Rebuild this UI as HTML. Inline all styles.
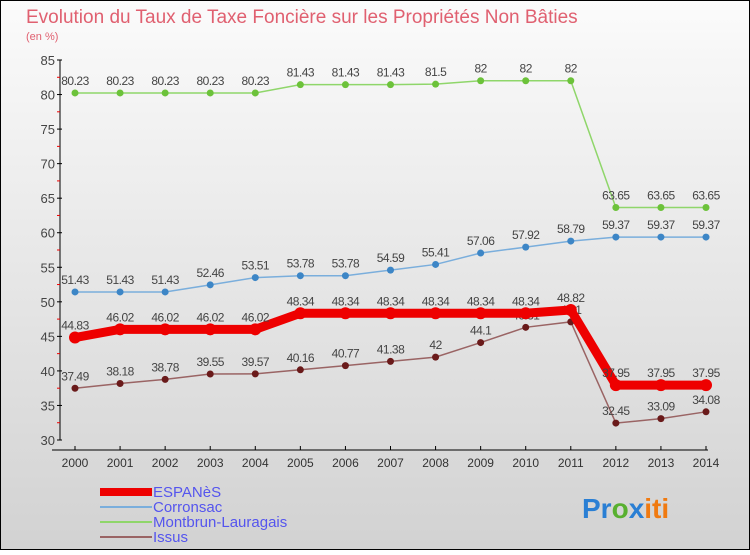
<!DOCTYPE html>
<html><head><meta charset="utf-8"><style>
body{margin:0}
svg text{font-family:"Liberation Sans",sans-serif}
</style></head><body>
<svg id="c" width="750" height="550" xmlns="http://www.w3.org/2000/svg">
<defs><linearGradient id="bg" x1="0" y1="0" x2="0" y2="1"><stop offset="0" stop-color="#fbfbfb"/><stop offset="1" stop-color="#d2d2d2"/></linearGradient></defs>
<rect x="0.5" y="0.5" width="749" height="549" fill="url(#bg)" stroke="#000"/>
<text x="26" y="23" font-size="19" fill="#e06070">Evolution du Taux de Taxe Foncière sur les Propriétés Non Bâties</text>
<text x="26" y="40" font-size="11" fill="#e06070">(en %)</text>
<g id="axes"></g><g id="series"></g>
<g font-size="15" fill="#5555ee">
<rect x="100" y="488" width="52" height="8" fill="#e00"/><text x="153" y="497">ESPANèS</text>
<rect x="100" y="506" width="52" height="2" fill="#7aaedc"/><text x="153" y="512">Corronsac</text>
<rect x="100" y="521" width="52" height="2" fill="#8fd66a"/><text x="153" y="527">Montbrun-Lauragais</text>
<rect x="100" y="536" width="52" height="2" fill="#9a6464"/><text x="153" y="542">Issus</text>
</g>
<text x="582" y="518" font-size="28" font-weight="bold"><tspan fill="#2a7fd4">Pr</tspan><tspan fill="#58b030">o</tspan><tspan fill="#2a7fd4">x</tspan><tspan fill="#f07a10">iti</tspan></text>
</svg>
<script>
const years=[2000,2001,2002,2003,2004,2005,2006,2007,2008,2009,2010,2011,2012,2013,2014];
const yTicks=[30,35,40,45,50,55,60,65,70,75,80,85];
const espanes=[44.83,46.02,46.02,46.02,46.02,48.34,48.34,48.34,48.34,48.34,48.34,48.82,37.95,37.95,37.95];
const corronsac=[51.43,51.43,51.43,52.46,53.51,53.78,53.78,54.59,55.41,57.06,57.92,58.79,59.37,59.37,59.37];
const montbrun=[80.23,80.23,80.23,80.23,80.23,81.43,81.43,81.43,81.5,82,82,82,63.65,63.65,63.65];
const issus=[37.49,38.18,38.78,39.55,39.57,40.16,40.77,41.38,42,44.1,46.31,47.1,32.45,33.09,34.08];
const NS="http://www.w3.org/2000/svg";
const X=i=>75+i*(706-75)/(years.length-1);
const Y=v=>440-(v-30)*380/55;
function el(t,a,p){const e=document.createElementNS(NS,t);for(const k in a)e.setAttribute(k,a[k]);p.appendChild(e);return e;}
const ax=document.getElementById('axes'),sg=document.getElementById('series');
el('line',{x1:60,y1:Y(85),x2:60,y2:440,stroke:'#000'},ax);
el('line',{x1:52,y1:450,x2:708,y2:450,stroke:'#000'},ax);
yTicks.forEach(v=>{el('line',{x1:57,x2:62,y1:Y(v),y2:Y(v),stroke:'#000'},ax);
 if(v<85)el('line',{x1:57,x2:60,y1:Y(v+2.5),y2:Y(v+2.5),stroke:'#e00'},ax);
 const t=el('text',{x:55,y:Y(v)+5,'text-anchor':'end','font-size':13,fill:'#444'},ax);t.textContent=v;
 });
years.forEach((y,i)=>{el('line',{x1:X(i),x2:X(i),y1:446,y2:450,stroke:'#000'},ax);
 const t=el('text',{x:X(i),y:467,'text-anchor':'middle','font-size':12,fill:'#333'},ax);t.textContent=y;
 });
function series(d,name,col,dot,w,r){
 const g=el('g',{},sg);
 
 
 el('polyline',{points:d.map((v,i)=>X(i)+','+Y(v)).join(' '),fill:'none',stroke:col,'stroke-width':w},g);
 d.forEach((v,i)=>{const c=el('circle',{cx:X(i),cy:Y(v),r:r,fill:dot},g);
  
  const t=el('text',{x:X(i),y:Y(v)-8,'text-anchor':'middle','font-size':12,fill:'#444','letter-spacing':'-0.5'},g);t.textContent=v;
  });
}
series(montbrun,'montbrun','#8fd66a','#6cc23a',1.5,3.5);
series(corronsac,'corronsac','#7aaedc','#3d86c6',1.5,3.5);
series(issus,'issus','#9a6464','#6a1a1a',1.5,3.5);
series(espanes,'espanes','#e00','#e00',9,6);
</script>
</body></html>
